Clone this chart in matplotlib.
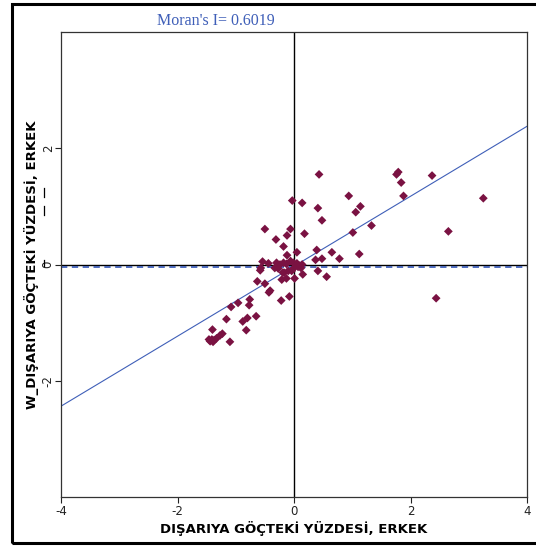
#!/usr/bin/env python3
"""Moran scatter plot: outward migration share (male) vs its spatial lag."""
import numpy as np
import matplotlib.pyplot as plt
from matplotlib.patches import Rectangle
from matplotlib.lines import Line2D

# standardised values (x) and spatial lag (w)
x_vals = [0.43, -0.03, 0.14, 0.41, 0.48, -0.06, -0.12, 0.18, -0.18, 0.05,
          -0.12, 0.39, 0.37, 0.48, 0.65, 0.78, 1.01, 1.12, 0.94, 1.06,
          1.14, 1.33, 1.76, 1.79, 1.84, 1.88, 0.56, 0.15, 0.41, 0.01,
          -0.13, 2.37, 3.25, 2.65, 2.44, -0.50, -0.31, -0.54, -0.44, -0.58,
          -0.57, -0.30, -0.24, -0.18, -0.13, -0.06, -0.01, 0.05, 0.09, 0.14,
          -0.33, -0.27, -0.19, -0.10, 0.07, 0.12, 0.00, -0.63, -0.50, -0.41,
          -0.43, -0.22, -0.08, -0.96, -1.08, -0.77, -0.76, -1.16, -0.88, -0.80,
          -0.65, -0.82, -1.23, -1.27, -1.40, -1.41, -1.44, -1.37, -1.33, -1.10,
          -0.17, -0.04, -0.21, -1.39, -1.46]
w_vals = [1.55, 1.10, 1.06, 0.97, 0.76, 0.61, 0.50, 0.53, 0.31, 0.21,
          0.16, 0.25, 0.08, 0.10, 0.21, 0.10, 0.55, 0.18, 1.18, 0.90,
          1.00, 0.67, 1.55, 1.59, 1.41, 1.18, -0.21, -0.17, -0.11, -0.24,
          -0.24, 1.53, 1.14, 0.57, -0.58, 0.61, 0.43, 0.05, 0.02, -0.10,
          -0.06, 0.03, 0.00, 0.03, 0.01, 0.06, 0.03, 0.02, -0.02, 0.00,
          -0.06, -0.07, -0.14, -0.11, -0.04, -0.06, -0.06, -0.29, -0.33, -0.45,
          -0.48, -0.62, -0.55, -0.66, -0.73, -0.70, -0.60, -0.94, -0.98, -0.92,
          -0.89, -1.13, -1.19, -1.22, -1.12, -1.29, -1.32, -1.30, -1.27, -1.33,
          -0.14, -0.11, -0.26, -1.33, -1.29]

moran_i = 0.6019
intercept = -0.03
w_mean = -0.05

x_ticks = [-4, -2, 0, 2, 4]
y_ticks = [-2, 0, 2]
x_label = "DIŞARIYA GÖÇTEKİ YÜZDESİ, ERKEK"
y_label = "W_DIŞARIYA GÖÇTEKİ YÜZDESİ, ERKEK"
title = "Moran's I= 0.6019"

blue = "#3f5fb8"
maroon = "#7a1242"

plt.rcParams["axes.unicode_minus"] = False

fig = plt.figure(figsize=(5.36, 5.46), dpi=100)
ax = fig.add_axes([61 / 536, 1 - 497 / 546, 466 / 536, 465 / 546])

ax.set_xlim(-4, 4)
ax.set_ylim(-4, 4)

ax.axhline(0, color="black", lw=1.0, zorder=1)
ax.axvline(0, color="black", lw=1.0, zorder=1)
ax.axhline(w_mean, color=blue, lw=1.3, ls=(0, (3.5, 2.5)), zorder=1)

xx = np.array([-4, 4])
ax.plot(xx, moran_i * xx + intercept, color=blue, lw=0.8, zorder=2)

ax.scatter(x_vals, w_vals, marker="D", s=20, color=maroon,
           edgecolors="none", zorder=3)

ax.set_xticks(x_ticks)
ax.set_yticks(y_ticks)
ax.tick_params(axis="both", direction="out", length=4, width=0.8,
               labelsize=8.5, colors="#222222", pad=2)
ax.tick_params(axis="y", pad=0.5)
for lbl in ax.get_yticklabels():
    lbl.set_rotation(90)
    lbl.set_va("center")
for sp in ax.spines.values():
    sp.set_linewidth(0.9)
    sp.set_color("#333333")

ax.set_xlabel(x_label, fontsize=9.5, fontweight="bold", labelpad=2)
ax.set_ylabel(y_label, fontsize=9.5, fontweight="bold", labelpad=2)
ax.set_title(title, fontsize=11.5, family="Liberation Serif", color=blue,
             loc="left", x=(157 - 61) / 466, pad=5)

# stray marks beside the y tick labels
for y0, y1 in [(188, 197), (206, 215), (260, 266)]:
    fig.add_artist(Line2D([44 / 536, 44 / 536], [1 - y0 / 546, 1 - y1 / 546],
                          color="black", lw=0.9))

# outer frame, clipped on the right
fig.add_artist(Rectangle((12 / 536, 3 / 546), 0.99, 1 - 7 / 546,
                         fill=False, lw=2.2, edgecolor="black"))

fig.savefig("out.png", dpi=100)
